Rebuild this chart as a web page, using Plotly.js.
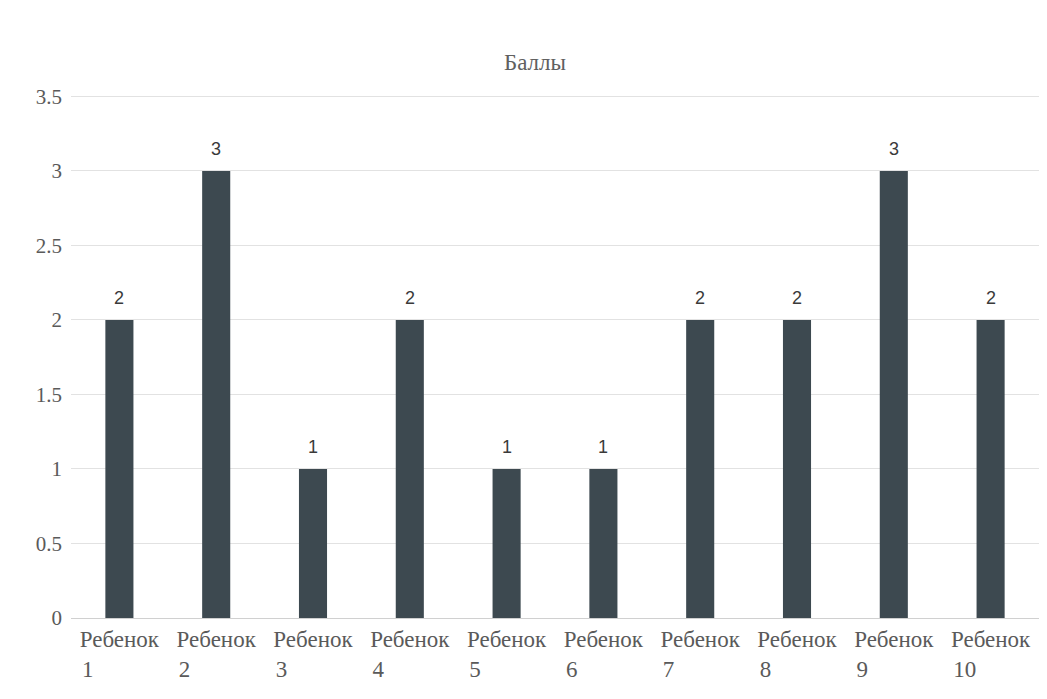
<!DOCTYPE html>
<html>
<head>
<meta charset="utf-8">
<script src="https://cdn.plot.ly/plotly-3.0.1.min.js"></script>
<style>html,body{margin:0;padding:0;background:#fff;}#chart{width:1047px;height:699px;}</style>
</head>
<body>
<div id="chart"></div>
<script>
const categories = ["Ребенок 1","Ребенок 2","Ребенок 3","Ребенок 4","Ребенок 5","Ребенок 6","Ребенок 7","Ребенок 8","Ребенок 9","Ребенок 10"];
const tickNumbers = ["1","2","3","4","5","6","7","8","9","10"];
const scores = [2,3,1,2,1,1,2,2,3,2];
const yTicks = [0,0.5,1,1.5,2,2.5,3,3.5];
const yTickLabels = ["0","0.5","1","1.5","2","2.5","3","3.5"];

const pad = n => "\u00a0".repeat(n);
const tickText = tickNumbers.map(n => "Ребенок<br>" + n + pad(n.length > 1 ? 9 : 11));

const valueLabels = categories.map((c, i) => ({
  x: c, y: scores[i], text: String(scores[i]),
  xref: 'x', yref: 'y', showarrow: false, yanchor: 'bottom', yshift: 10,
  font: {family: 'Liberation Sans, Arial, sans-serif', size: 18, color: '#3a3a3a'}
}));

Plotly.newPlot('chart', [{
  type: 'bar',
  x: categories,
  y: scores,
  marker: {color: '#3d4950'},
  cliponaxis: false,
  hoverinfo: 'none'
}], {
  width: 1047, height: 699,
  margin: {l: 71, r: 8, t: 89, b: 81},
  paper_bgcolor: '#ffffff', plot_bgcolor: '#ffffff',
  bargap: 0.71,
  showlegend: false,
  annotations: valueLabels,
  title: {text: 'Баллы', x: 535/1047, xanchor: 'center', y: 1 - 62/699, yanchor: 'middle', xref: 'container', yref: 'container',
    font: {family: 'Liberation Serif', size: 23, color: '#606060'}},
  xaxis: {
    tickmode: 'array', tickvals: categories, ticktext: tickText, tickangle: 0,
    tickfont: {family: 'Liberation Serif', size: 23, color: '#5a5a5a'},
    showgrid: false, showline: true, linecolor: '#d0d0d0', linewidth: 1,
    ticks: '', fixedrange: true, automargin: false
  },
  yaxis: {
    range: [0, 3.55], tickmode: 'array', tickvals: yTicks, ticktext: yTickLabels,
    tickfont: {family: 'Liberation Serif', size: 21, color: '#5a5a5a'},
    showgrid: true, gridcolor: '#e2e2e2', gridwidth: 1,
    zeroline: false, showline: false, ticks: '', ticklabelstandoff: 8, fixedrange: true, automargin: false
  }
}, {displayModeBar: false, staticPlot: true});
</script>
</body>
</html>
